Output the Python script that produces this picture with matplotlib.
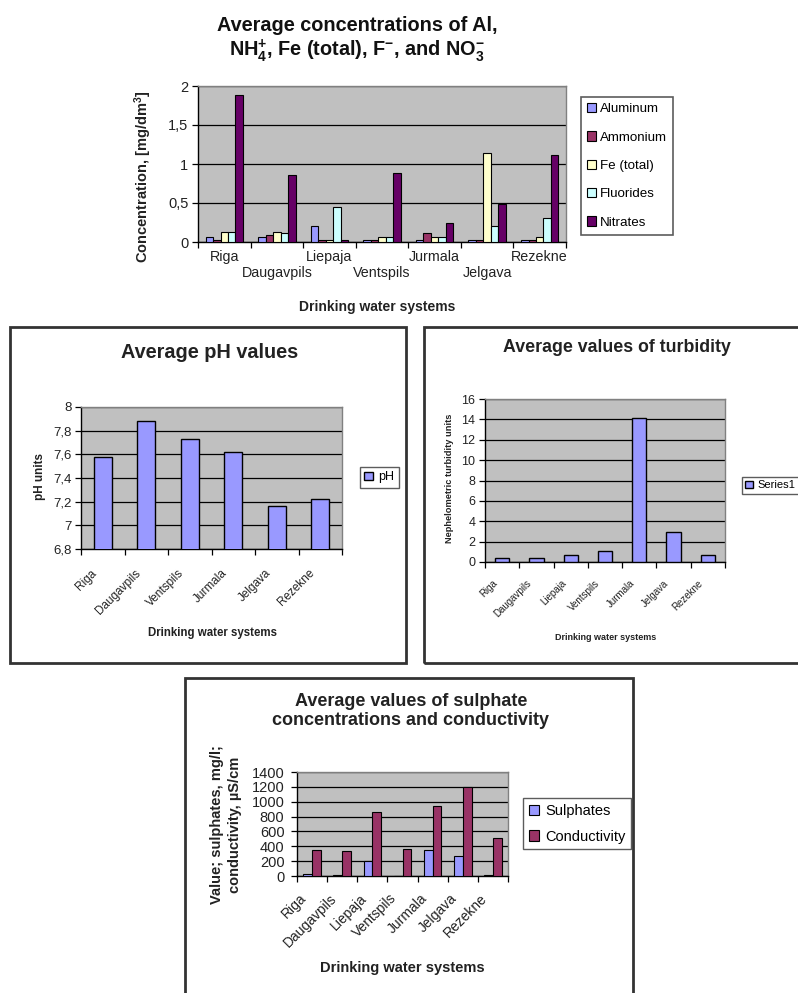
import numpy as np
import matplotlib
matplotlib.use("Agg")
import matplotlib.pyplot as plt
from matplotlib.patches import Patch, Rectangle
from matplotlib.ticker import FuncFormatter
from matplotlib.transforms import ScaledTranslation

plt.rcParams["font.family"] = ["Liberation Sans", "DejaVu Sans"]
plt.rcParams["mathtext.fontset"] = "custom"
plt.rcParams["mathtext.rm"] = "Liberation Sans:bold"
plt.rcParams["mathtext.bf"] = "Liberation Sans:bold"
plt.rcParams["mathtext.it"] = "Liberation Sans:bold"

# ---- data ----
cities_all = ["Riga", "Daugavpils", "Liepaja", "Ventspils", "Jurmala", "Jelgava", "Rezekne"]
cities_ph = ["Riga", "Daugavpils", "Ventspils", "Jurmala", "Jelgava", "Rezekne"]

aluminum = [0.07, 0.07, 0.20, 0.02, 0.02, 0.02, 0.03]
ammonium = [0.03, 0.09, 0.03, 0.03, 0.11, 0.03, 0.03]
iron_total = [0.13, 0.13, 0.03, 0.07, 0.06, 1.14, 0.06]
fluorides = [0.13, 0.11, 0.45, 0.06, 0.07, 0.21, 0.31]
nitrates = [1.88, 0.86, 0.02, 0.89, 0.24, 0.49, 1.11]

ph_values = [7.58, 7.88, 7.73, 7.62, 7.16, 7.22]

turbidity = [0.36, 0.36, 0.66, 1.08, 14.16, 2.92, 0.66]

sulphates = [30, 15, 200, 0, 345, 275, 15]
conductivity = [345, 330, 867, 370, 944, 1200, 515]

conc_names = ["Aluminum", "Ammonium", "Fe (total)", "Fluorides", "Nitrates"]
conc_colors = ["#9999FF", "#993366", "#FFFFCC", "#CCFFFF", "#660066"]

W, H = 798, 993
fig = plt.figure(figsize=(W / 100, H / 100), dpi=100)


def px_axes(x0, y0, x1, y1):
    return fig.add_axes([x0 / W, 1 - y1 / H, (x1 - x0) / W, (y1 - y0) / H])


def fx(x):
    return x / W


def fy(y):
    return 1 - y / H


def frame(x0, y0, x1, y1):
    fig.add_artist(Rectangle((fx(x0), fy(y1)), (x1 - x0) / W, (y1 - y0) / H,
                             transform=fig.transFigure, fill=False,
                             ec="#333333", lw=2.0))


def comma_fmt(v, pos):
    s = ("%.2f" % v).rstrip("0").rstrip(".")
    return s.replace(".", ",")


def style_axes(ax, n, yticks, ytick_size, tick_len=4, ypad=2):
    ax.set_facecolor("#C0C0C0")
    for s in ("left", "bottom"):
        ax.spines[s].set_color("black")
        ax.spines[s].set_linewidth(1.0)
    for s in ("top", "right"):
        ax.spines[s].set_color("#808080")
        ax.spines[s].set_linewidth(1.0)
    ax.set_axisbelow(True)
    ax.set_yticks(yticks)
    ax.yaxis.set_major_formatter(FuncFormatter(comma_fmt))
    ax.yaxis.grid(True, color="black", lw=0.9)
    ax.tick_params(axis="y", direction="out", length=tick_len, width=0.9,
                   labelsize=ytick_size, pad=ypad, labelcolor="#222222")
    ax.set_xlim(-0.5, n - 0.5)
    # category boundaries carry the tick marks, names sit between them
    ax.set_xticks(np.arange(n + 1) - 0.5)
    ax.set_xticklabels([])
    ax.tick_params(axis="x", direction="out", length=tick_len, width=0.9)


def cat_labels(ax, labels, fontsize, dx=0, dy=-6, rotation=0, rows=None):
    for i, lab in enumerate(labels):
        yoff = dy
        if rows is not None:
            yoff = dy - rows[i]
        tr = ax.get_xaxis_transform() + ScaledTranslation(dx / 100, yoff / 100,
                                                          fig.dpi_scale_trans)
        if rotation:
            ax.text(i, 0, lab, transform=tr, rotation=rotation, ha="right",
                    va="top", rotation_mode="anchor", fontsize=fontsize,
                    color="#222222")
        else:
            ax.text(i, 0, lab, transform=tr, ha="center", va="top",
                    fontsize=fontsize, color="#222222")


# ---- top chart: concentrations ----
ax1 = px_axes(198, 86, 566, 242)
n1 = len(cities_all)
series = [aluminum, ammonium, iron_total, fluorides, nitrates]
group_w = 0.71
bw = group_w / len(series)
x1 = np.arange(n1)
for i, (vals, col) in enumerate(zip(series, conc_colors)):
    ax1.bar(x1 - group_w / 2 + bw * (i + 0.5), vals, width=bw, color=col,
            edgecolor="black", lw=0.8, zorder=3)
ax1.set_ylim(0, 2)
style_axes(ax1, n1, [0, 0.5, 1, 1.5, 2], 10.5, ypad=3)
cat_labels(ax1, cities_all, 10.3, dy=-8, rows=[0, 16, 0, 16, 0, 16, 0])
fig.text(fx(357), fy(40),
         "Average concentrations of Al,\n"
         r"NH$_\mathbf{4}^\mathbf{+}$, Fe (total), F$^\mathbf{-}$, and NO$_\mathbf{3}^\mathbf{-}$",
         ha="center", va="center", fontsize=14.3, fontweight="bold",
         linespacing=1.12, color="#111111")
fig.text(fx(143), fy(177), r"Concentration, [mg/dm$^\mathbf{3}$]", rotation=90,
         ha="center", va="center", fontsize=10.5, fontweight="bold", color="#222222")
fig.text(fx(377), fy(307), "Drinking water systems", ha="center", va="center",
         fontsize=10, fontweight="bold", color="#222222")
h1 = [Patch(facecolor=c, edgecolor="black", lw=0.8) for c in conc_colors]
leg1 = fig.legend(h1, conc_names, loc="upper left",
                  bbox_to_anchor=(fx(581), fy(97)), fontsize=9.6,
                  frameon=True, fancybox=False, edgecolor="#333333",
                  handlelength=0.7, handleheight=0.7, handletextpad=0.3,
                  labelspacing=1.2, borderpad=0.45, borderaxespad=0)
leg1.get_frame().set_linewidth(1.2)

# ---- pH chart ----
frame(10, 327, 406, 663)
ax2 = px_axes(81, 407, 342, 549)
n2 = len(cities_ph)
ax2.bar(np.arange(n2), ph_values, width=0.42, color="#9999FF",
        edgecolor="black", lw=1.0, zorder=3)
ax2.set_ylim(6.8, 8.0)
style_axes(ax2, n2, [6.8, 7.0, 7.2, 7.4, 7.6, 7.8, 8.0], 9.5, ypad=3)
cat_labels(ax2, cities_ph, 8.5, dx=-12, dy=-18, rotation=45)
fig.text(fx(210), fy(352), "Average pH values", ha="center", va="center",
         fontsize=14.3, fontweight="bold", color="#222222")
fig.text(fx(40), fy(477), "pH units", rotation=90, ha="center", va="center",
         fontsize=8.5, fontweight="bold", color="#222222")
fig.text(fx(212), fy(633), "Drinking water systems", ha="center", va="center",
         fontsize=8.3, fontweight="bold", color="#222222")
leg2 = fig.legend([Patch(facecolor="#9999FF", edgecolor="black", lw=1.0)], ["pH"],
                  loc="upper left", bbox_to_anchor=(fx(360), fy(467)),
                  fontsize=9, frameon=True, fancybox=False, edgecolor="#333333",
                  handlelength=0.7, handleheight=0.7, handletextpad=0.4,
                  borderpad=0.35, borderaxespad=0)
leg2.get_frame().set_linewidth(1.0)

# ---- turbidity chart ----
frame(424, 327, 830, 663)
ax3 = px_axes(485, 399, 725, 562)
n3 = len(cities_all)
ax3.bar(np.arange(n3), turbidity, width=0.42, color="#9999FF",
        edgecolor="black", lw=1.0, zorder=3)
ax3.set_ylim(0, 16)
style_axes(ax3, n3, np.arange(0, 17, 2), 9, ypad=3)
cat_labels(ax3, cities_all, 7, dx=-10, dy=-16, rotation=45)
fig.text(fx(617), fy(348), "Average values of turbidity", ha="center", va="center",
         fontsize=12.8, fontweight="bold", color="#222222")
fig.text(fx(450), fy(478), "Nephelometric turbidity units", rotation=90,
         ha="center", va="center", fontsize=6.7, fontweight="bold", color="#222222")
fig.text(fx(606), fy(638), "Drinking water systems", ha="center", va="center",
         fontsize=6.5, fontweight="bold", color="#222222")
leg3 = fig.legend([Patch(facecolor="#9999FF", edgecolor="black", lw=1.0)], ["Series1"],
                  loc="upper left", bbox_to_anchor=(fx(742), fy(477)),
                  fontsize=8, frameon=True, fancybox=False, edgecolor="#333333",
                  handlelength=0.7, handleheight=0.7, handletextpad=0.4,
                  borderpad=0.3, borderaxespad=0)
leg3.get_frame().set_linewidth(1.0)

# ---- sulphates / conductivity chart ----
frame(185, 678, 633, 1010)
ax4 = px_axes(297, 772, 508, 876)
n4 = len(cities_all)
x4 = np.arange(n4)
gw = 0.58
ax4.bar(x4 - gw / 4, sulphates, width=gw / 2, color="#9999FF",
        edgecolor="black", lw=0.8, zorder=3)
ax4.bar(x4 + gw / 4, conductivity, width=gw / 2, color="#993366",
        edgecolor="black", lw=0.8, zorder=3)
ax4.set_ylim(0, 1400)
style_axes(ax4, n4, np.arange(0, 1401, 200), 10.5, ypad=5)
cat_labels(ax4, cities_all, 10, dx=-13, dy=-15, rotation=45)
fig.text(fx(411), fy(711), "Average values of sulphate\nconcentrations and conductivity",
         ha="center", va="center", fontsize=13, fontweight="bold",
         linespacing=1.12, color="#222222")
fig.text(fx(226), fy(825), "Value; sulphates, mg/l;\nconductivity, µS/cm", rotation=90,
         ha="center", va="center", fontsize=10.5, fontweight="bold",
         linespacing=1.4, color="#222222")
fig.text(fx(402), fy(968), "Drinking water systems", ha="center", va="center",
         fontsize=10.5, fontweight="bold", color="#222222")
leg4 = fig.legend([Patch(facecolor="#9999FF", edgecolor="black", lw=0.8),
                   Patch(facecolor="#993366", edgecolor="black", lw=0.8)],
                  ["Sulphates", "Conductivity"], loc="upper left",
                  bbox_to_anchor=(fx(523), fy(798)), fontsize=10.5,
                  frameon=True, fancybox=False, edgecolor="#333333",
                  handlelength=0.7, handleheight=0.7, handletextpad=0.4,
                  labelspacing=0.8, borderpad=0.4, borderaxespad=0)
leg4.get_frame().set_linewidth(1.0)

fig.savefig("out.png", dpi=100)
